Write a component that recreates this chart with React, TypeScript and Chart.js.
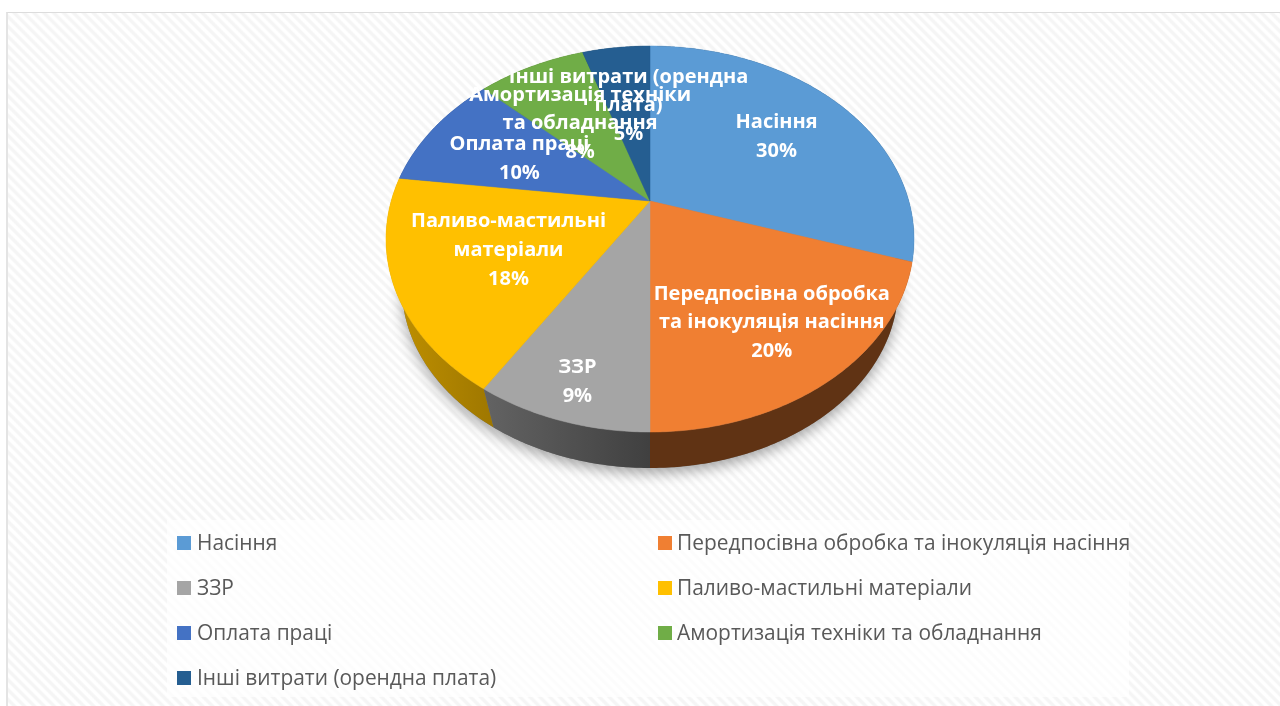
import React, { useEffect, useRef } from "react";
import { Chart, registerables } from "chart.js";

Chart.register(...registerables);

const categories = [
  "Насіння",
  "Передпосівна обробка та інокуляція насіння",
  "ЗЗР",
  "Паливо-мастильні матеріали",
  "Оплата праці",
  "Амортизація техніки та обладнання",
  "Інші витрати (орендна плата)",
];
const shares = [30, 20, 9, 18, 10, 8, 5];
const sliceColors = ["#5B9BD5", "#F07F32", "#A5A5A5", "#FFC000", "#4472C4", "#70AD47", "#255E91"];
const wallShadeStart = [0.4, 0.4, 0.6, 0.76, 0.5, 0.5, 0.5];
const wallShadeEnd = [0.4, 0.4, 0.39, 0.62, 0.5, 0.5, 0.5];
const labelLines = [
  ["Насіння"],
  ["Передпосівна обробка", "та інокуляція насіння"],
  ["ЗЗР"],
  ["Паливо-мастильні", "матеріали"],
  ["Оплата праці"],
  ["Амортизація техніки", "та обладнання"],
  ["Інші витрати (орендна", "плата)"],
];
const labelRadius = [0.65, 0.71, 0.845, 0.575, 0.585, 0.55, 0.59];

// Tilted-pie projection (unit circle to the picture)
const VIEW = { cx: 650, cy: 201, a: 258.8, b: 185.5, p: 0.197, wallScale: 0.94, wallShift: 61.9 };

const project = (f: number, angle: number) => {
  const u = f * Math.cos(angle);
  const v = f * Math.sin(angle);
  const d = 1 - VIEW.p * v;
  return { x: VIEW.cx + (VIEW.a * u) / d, y: VIEW.cy + (VIEW.b * v) / d };
};
const lower = (pt: { x: number; y: number }) => ({
  x: VIEW.cx + (pt.x - VIEW.cx) * VIEW.wallScale,
  y: pt.y * VIEW.wallScale + VIEW.wallShift,
});

const arcPoints = (start: number, end: number) => {
  const n = Math.max(2, Math.ceil((end - start) / 0.01));
  const out = [];
  for (let i = 0; i <= n; i++) out.push(project(1, start + ((end - start) * i) / n));
  return out;
};

const shade = (hex: string, k: number) => {
  const c = [1, 3, 5].map((i) => Math.round(parseInt(hex.slice(i, i + 2), 16) * k));
  return `rgb(${c[0]},${c[1]},${c[2]})`;
};

const tiltedPie = {
  id: "tiltedPie",
  beforeDatasetDraw(chart: any, args: any) {
    const ctx = chart.ctx;
    const arcs = args.meta.data;
    const colors = chart.data.datasets[0].backgroundColor;
    const whole = arcPoints(-Math.PI / 2, Math.PI * 1.5);

    // soft shadow below the disc
    ctx.save();
    ctx.shadowColor = "rgba(0,0,0,0.36)";
    ctx.shadowBlur = 14;
    ctx.shadowOffsetY = 5;
    ctx.fillStyle = "#777";
    ctx.beginPath();
    whole.map(lower).forEach((p: any, i: number) => (i ? ctx.lineTo(p.x, p.y) : ctx.moveTo(p.x, p.y)));
    ctx.closePath();
    ctx.fill();
    ctx.restore();

    // side walls, back to front
    const order = arcs
      .map((a: any, i: number) => ({ a, i }))
      .sort(
        (m: any, n: any) =>
          Math.sin((m.a.startAngle + m.a.endAngle) / 2) - Math.sin((n.a.startAngle + n.a.endAngle) / 2)
      );
    for (const { a, i } of order) {
      const top = arcPoints(a.startAngle, a.endAngle);
      const bottom = top.map(lower);
      const xs = [...top, ...bottom].map((p) => p.x);
      const g = ctx.createLinearGradient(Math.min(...xs), 0, Math.max(...xs), 0);
      g.addColorStop(0, shade(colors[i], wallShadeStart[i]));
      g.addColorStop(1, shade(colors[i], wallShadeEnd[i]));
      ctx.fillStyle = g;
      ctx.beginPath();
      top.forEach((p, k) => (k ? ctx.lineTo(p.x, p.y) : ctx.moveTo(p.x, p.y)));
      bottom.reverse().forEach((p) => ctx.lineTo(p.x, p.y));
      ctx.closePath();
      ctx.fill();
    }

    // top faces
    arcs.forEach((a: any, i: number) => {
      const apex = project(0, 0);
      ctx.fillStyle = colors[i];
      ctx.strokeStyle = colors[i];
      ctx.lineWidth = 0.5;
      ctx.beginPath();
      ctx.moveTo(apex.x, apex.y);
      arcPoints(a.startAngle, a.endAngle).forEach((p) => ctx.lineTo(p.x, p.y));
      ctx.closePath();
      ctx.fill();
      ctx.stroke();
    });
    return false;
  },
  afterDatasetsDraw(chart: any) {
    const ctx = chart.ctx;
    const arcs = chart.getDatasetMeta(0).data;
    const values = chart.data.datasets[0].data;
    const colors = chart.data.datasets[0].backgroundColor;
    ctx.save();

    // data labels
    ctx.font = "700 20px 'Open Sans'";
    ctx.fillStyle = "#fff";
    ctx.textAlign = "center";
    ctx.textBaseline = "middle";
    arcs.forEach((a: any, i: number) => {
      const c = project(labelRadius[i], (a.startAngle + a.endAngle) / 2);
      const lines = [...labelLines[i], `${values[i]}%`];
      lines.forEach((t, k) => {
        ctx.fillText(t, c.x, c.y + 1.5 + (k - (lines.length - 1) / 2) * 28.7);
      });
    });

    // legend: two columns, filled row by row
    ctx.font = "400 20.9px 'Open Sans'";
    ctx.textAlign = "left";
    chart.data.labels.forEach((t: string, i: number) => {
      const col = i % 2;
      const row = Math.floor(i / 2);
      const y = 543 + row * 45;
      const x = col ? 658 : 177;
      ctx.fillStyle = colors[i];
      ctx.fillRect(x, y - 7, 14, 14);
      ctx.fillStyle = "#595959";
      ctx.fillText(t, col ? 677 : 197, y + 1);
    });
    ctx.restore();
  },
};

export default function App() {
  const ref = useRef<HTMLCanvasElement>(null);
  useEffect(() => {
    const chart = new Chart(ref.current!, {
      type: "pie",
      data: {
        labels: categories,
        datasets: [{ data: shares, backgroundColor: sliceColors, borderWidth: 0 }],
      },
      options: {
        animation: false,
        responsive: false,
        plugins: { legend: { display: false }, tooltip: { enabled: false } },
      },
      plugins: [tiltedPie],
    } as any);
    return () => chart.destroy();
  }, []);
  return (
    <div style={{ position: "fixed", left: 0, top: 0, width: 1280, height: 706, background: "#fff", overflow: "hidden" }}>
      <div
        style={{
          position: "absolute",
          left: 6,
          top: 12,
          right: 0,
          bottom: 0,
          borderLeft: "2px solid #e4e4e4",
          borderTop: "1px solid #dcdcdc",
          background:
            "repeating-linear-gradient(45deg, #ffffff 0px, #ffffff 2px, #f5f5f5 3.6px, #f5f5f5 5.4px, #ffffff 7px)",
        }}
      />
      <div
        style={{
          position: "absolute",
          left: 167,
          top: 520,
          width: 962,
          height: 177,
          background: "rgba(255,255,255,0.72)",
        }}
      />
      <canvas ref={ref} width={1280} height={706} style={{ position: "absolute", left: 0, top: 0, display: "block" }} />
    </div>
  );
}
